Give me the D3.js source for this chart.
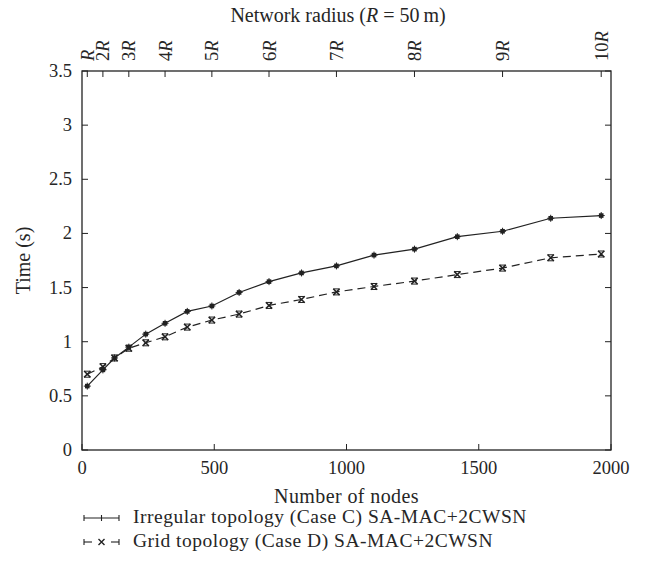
<!DOCTYPE html>
<html>
<head>
<meta charset="utf-8">
<script src="https://cdn.jsdelivr.net/npm/d3@7"></script>
<style>
  body { margin: 0; background: #fff; }
  svg text { font-family: "Liberation Serif", "DejaVu Serif", serif; fill: #262626; }
</style>
</head>
<body>
<svg id="chart" width="648" height="586"></svg>
<script>
// ---- data ----
const nodes = [20, 79, 123, 177, 241, 314, 398, 491, 594, 707, 830, 962, 1104, 1257, 1419, 1590, 1772, 1963];
const irregular = [0.59, 0.74, 0.85, 0.95, 1.07, 1.17, 1.28, 1.33, 1.455, 1.555, 1.635, 1.70, 1.80, 1.855, 1.97, 2.02, 2.14, 2.165];
const grid = [0.70, 0.77, 0.85, 0.94, 0.99, 1.045, 1.135, 1.20, 1.255, 1.335, 1.39, 1.46, 1.51, 1.56, 1.62, 1.68, 1.775, 1.81];
const xTicks = [0, 500, 1000, 1500, 2000];
const yTicks = [0, 0.5, 1, 1.5, 2, 2.5, 3, 3.5];
const radiusNodes = [20, 79, 177, 314, 491, 707, 962, 1257, 1590, 1963];
const radiusPrefix = ["", "2", "3", "4", "5", "6", "7", "8", "9", "10"];
const seriesNames = ["Irregular topology (Case C) SA-MAC+2CWSN", "Grid topology (Case D) SA-MAC+2CWSN"];

const svg = d3.select("#chart");
const L = 82, R = 611, T = 71, B = 450;
const x = d3.scaleLinear().domain([0, 2000]).range([L, R]);
const y = d3.scaleLinear().domain([0, 3.5]).range([B, T]);
const ink = "#222";
const fsTick = 18.5, fsTitle = 20, fsLeg = 19.5;

// ticks inward
const tl = 6;
const g = svg.append("g").attr("stroke", ink).attr("stroke-width", 1);
xTicks.forEach(v => {
  g.append("line").attr("x1", x(v)).attr("x2", x(v)).attr("y1", B).attr("y2", B - tl);
});
yTicks.forEach(v => {
  g.append("line").attr("x1", L).attr("x2", L + tl).attr("y1", y(v)).attr("y2", y(v));
  g.append("line").attr("x1", R).attr("x2", R - tl).attr("y1", y(v)).attr("y2", y(v));
});
radiusNodes.forEach(v => {
  g.append("line").attr("x1", x(v)).attr("x2", x(v)).attr("y1", T).attr("y2", T + tl);
});
// frame
svg.append("rect").attr("x", L).attr("y", T).attr("width", R - L).attr("height", B - T)
  .attr("fill", "none").attr("stroke", ink).attr("stroke-width", 1.3);

// tick labels
xTicks.forEach(v => {
  svg.append("text").attr("x", x(v)).attr("y", B + 24).attr("text-anchor", "middle")
    .attr("font-size", fsTick).text(v);
});
yTicks.forEach(v => {
  svg.append("text").attr("x", L - 10).attr("y", y(v) + 6).attr("text-anchor", "end")
    .attr("font-size", fsTick).text(v);
});
radiusNodes.forEach((v, i) => {
  const t = svg.append("text")
    .attr("transform", `translate(${x(v) + 6.5},${T - 10}) rotate(-90)`)
    .attr("text-anchor", "start").attr("font-size", fsTick);
  if (radiusPrefix[i]) t.append("tspan").text(radiusPrefix[i]);
  t.append("tspan").attr("font-style", "italic").text("R");
});

// axis titles
const tt = svg.append("text").attr("x", 338).attr("y", 22).attr("text-anchor", "middle").attr("font-size", fsTitle);
tt.append("tspan").text("Network radius (");
tt.append("tspan").attr("font-style", "italic").text("R");
tt.append("tspan").text(" = 50\u2009m)");
svg.append("text").attr("x", (L + R) / 2).attr("y", 503).attr("text-anchor", "middle")
  .attr("font-size", fsTitle).attr("letter-spacing", 0.4).text("Number of nodes");
svg.append("text").attr("transform", `translate(30,${(T + B) / 2}) rotate(-90)`)
  .attr("text-anchor", "middle").attr("font-size", fsTitle).text("Time (s)");

// lines
const line = d3.line().x(d => x(d[0])).y(d => y(d[1]));
const s1 = nodes.map((n, i) => [n, irregular[i]]);
const s2 = nodes.map((n, i) => [n, grid[i]]);
svg.append("path").datum(s2).attr("d", line).attr("fill", "none").attr("stroke", ink)
  .attr("stroke-width", 1.2).attr("stroke-dasharray", "8,5");
svg.append("path").datum(s1).attr("d", line).attr("fill", "none").attr("stroke", ink)
  .attr("stroke-width", 1.2);

function plusMarker(sel, cx, cy) {
  sel.append("rect").attr("x", cx - 2.3).attr("y", cy - 2.3).attr("width", 4.6).attr("height", 4.6).attr("fill", ink);
  sel.append("line").attr("x1", cx - 3.5).attr("x2", cx + 3.5).attr("y1", cy).attr("y2", cy).attr("stroke", ink);
  sel.append("line").attr("x1", cx).attr("x2", cx).attr("y1", cy - 3.5).attr("y2", cy + 3.5).attr("stroke", ink);
}
function crossMarker(sel, cx, cy) {
  const s = 3.2;
  sel.append("path").attr("d", `M${cx - s},${cy - s}L${cx + s},${cy + s}M${cx - s},${cy + s}L${cx + s},${cy - s}`)
    .attr("stroke", ink).attr("stroke-width", 1.5);
  sel.append("path").attr("d", `M${cx - 3},${cy - 3}H${cx + 3}M${cx - 3},${cy + 3}H${cx + 3}`)
    .attr("stroke", ink).attr("stroke-width", 1);
}
const mk = svg.append("g");
s2.forEach(d => crossMarker(mk, x(d[0]), y(d[1])));
s1.forEach(d => plusMarker(mk, x(d[0]), y(d[1])));

// legend
const lx1 = 84, lx2 = 119, ly = [518, 542];
const lg = svg.append("g").attr("stroke", ink).attr("stroke-width", 1.1);
// row 1
lg.append("line").attr("x1", lx1).attr("x2", lx2).attr("y1", ly[0]).attr("y2", ly[0]);
lg.append("line").attr("x1", lx1).attr("x2", lx1).attr("y1", ly[0] - 3).attr("y2", ly[0] + 3);
lg.append("line").attr("x1", lx2).attr("x2", lx2).attr("y1", ly[0] - 3).attr("y2", ly[0] + 3);
lg.append("line").attr("x1", (lx1 + lx2) / 2).attr("x2", (lx1 + lx2) / 2).attr("y1", ly[0] - 3).attr("y2", ly[0] + 3);
// row 2
lg.append("line").attr("x1", lx1).attr("x2", lx1 + 8).attr("y1", ly[1]).attr("y2", ly[1]);
lg.append("line").attr("x1", lx2 - 8).attr("x2", lx2).attr("y1", ly[1]).attr("y2", ly[1]);
lg.append("line").attr("x1", lx1).attr("x2", lx1).attr("y1", ly[1] - 3).attr("y2", ly[1] + 3);
lg.append("line").attr("x1", lx2).attr("x2", lx2).attr("y1", ly[1] - 3).attr("y2", ly[1] + 3);
const cxm = (lx1 + lx2) / 2;
lg.append("path").attr("d", `M${cxm - 3},${ly[1] - 3}L${cxm + 3},${ly[1] + 3}M${cxm - 3},${ly[1] + 3}L${cxm + 3},${ly[1] - 3}`)
  .attr("stroke-width", 1.4);
seriesNames.forEach((n, i) => {
  svg.append("text").attr("x", 133).attr("y", ly[i] + 5).attr("font-size", fsLeg)
    .attr("letter-spacing", 0.5).text(n);
});
</script>
</body>
</html>
